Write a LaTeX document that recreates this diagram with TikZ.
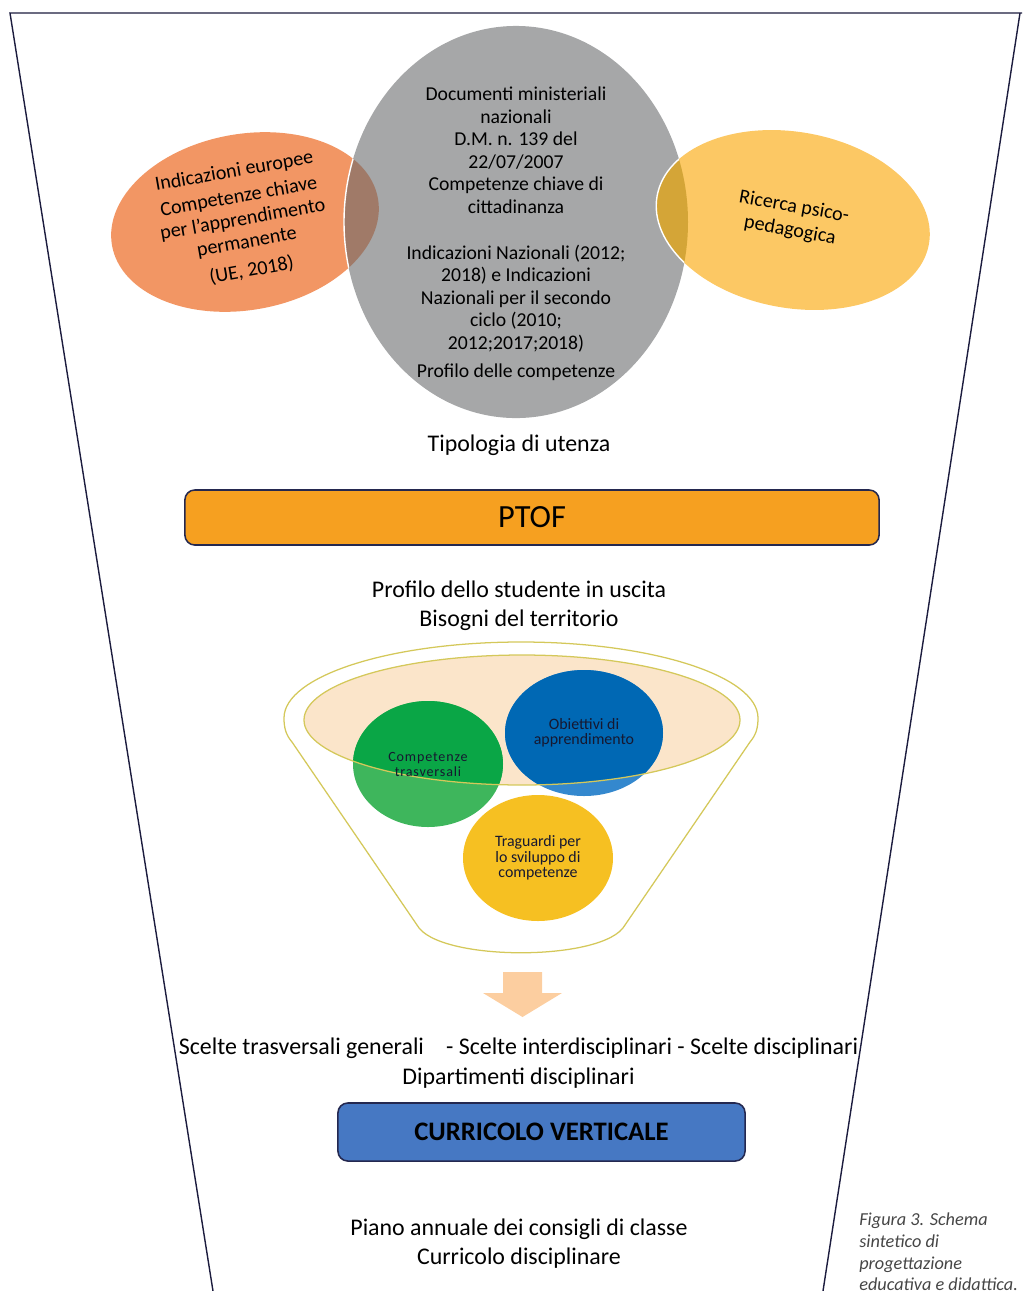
\documentclass[tikz,border=0pt]{standalone}
\usepackage{fontspec}
\setmainfont{Carlito}
\usetikzlibrary{shapes.geometric}

\definecolor{framenavy}{RGB}{28,28,62}
\definecolor{docgray}{RGB}{166,167,168}
\definecolor{euorange}{RGB}{242,150,100}
\definecolor{eubrown}{RGB}{160,122,104}
\definecolor{psyyellow}{RGB}{252,200,100}
\definecolor{psygold}{RGB}{212,165,55}
\definecolor{ptoforange}{RGB}{246,160,32}
\definecolor{barnavy}{RGB}{36,40,80}
\definecolor{curblue}{RGB}{70,120,195}
\definecolor{funnelline}{RGB}{212,200,90}
\definecolor{funneltan}{RGB}{251,229,202}
\definecolor{greenlight}{RGB}{62,182,92}
\definecolor{greendark}{RGB}{10,166,70}
\definecolor{bluelight}{RGB}{52,136,206}
\definecolor{bluedark}{RGB}{0,104,180}
\definecolor{goalyellow}{RGB}{246,192,34}
\definecolor{arrowpeach}{RGB}{252,206,160}
\definecolor{captiongray}{RGB}{70,70,70}
\definecolor{blobtext}{RGB}{22,24,48}

\begin{document}
\begin{tikzpicture}[
    x = 0.025cm,
    y = -0.025cm,
    oval/.style = {ellipse, inner sep=0pt, outer sep=0pt},
    ovaltext/.style = {align=center, inner sep=0pt,
              font=\fontsize{14.3}{16.4}\selectfont},
    heading/.style = {align=center, inner sep=0pt,
              font=\fontsize{17}{20.6}\selectfont},
    bar/.style = {rounded corners=7pt, draw=barnavy, line width=1.1pt,
              inner sep=0pt},
    blob/.style = {ellipse, inner sep=0pt, align=center, text=blobtext,
              minimum width=3.75cm, minimum height=3.15cm,
              font=\fontsize{11.3}{10.9}\selectfont},
    ]

\useasboundingbox (0,0) rectangle (1022,1291);
\clip (0,0) rectangle (1022,1291);

% frame
\coordinate (top_left) at (10,13);
\coordinate (top_right) at (1022,13);
\coordinate (right_top) at (1020,13);
\coordinate (bottom_left) at (213,1291);
\coordinate (bottom_right) at (823,1291);
\draw [framenavy, line width=1pt] (bottom_left) -- (top_left) -- (top_right);
\draw [framenavy, line width=1pt] (right_top) -- (bottom_right);

% sources
\node[oval, fill=euorange, minimum width=6.75cm, minimum height=4.4cm, rotate=10] (eu) at (245,222){};
\node[oval, fill=docgray, minimum width=8.6cm, minimum height=9.8cm] (docs) at (516,222){};
\node[oval, fill=psyyellow, minimum width=6.9cm, minimum height=4.4cm, rotate=-10] (psy) at (793,220){};

\begin{scope}
  \clip (516,222) ellipse [x radius=172, y radius=196];
  \fill [eubrown, rotate around={10:(245,222)}] (245,222) ellipse [x radius=135, y radius=88];
  \fill [psygold, rotate around={-10:(793,220)}] (793,220) ellipse [x radius=138, y radius=88];
  \draw [white, line width=1pt, rotate around={-10:(793,220)}] (793,220) ellipse [x radius=138, y radius=88];
\end{scope}
\begin{scope}
  \clip [rotate around={10:(245,222)}] (245,222) ellipse [x radius=135, y radius=88];
  \draw [white, line width=1pt] (516,222) ellipse [x radius=172, y radius=196];
\end{scope}

\node[ovaltext, rotate=10] (eu_text) at (243,221) {Indicazioni europee\\[2pt] Competenze chiave\\per l’apprendimento\\permanente\\[4pt] (UE, 2018)};
\node[ovaltext, font=\fontsize{14}{16}\selectfont] (docs_text) at (516,234) {Documenti ministeriali\\nazionali\\D.M. n. 139 del\\22/07/2007\\Competenze chiave di\\cittadinanza\\[16.7pt] Indicazioni Nazionali (2012;\\2018) e Indicazioni\\Nazionali per il secondo\\ciclo (2010;\\2012;2017;2018)\\[4.6pt] Profilo delle competenze};
\node[ovaltext, font=\fontsize{14.3}{17}\selectfont, rotate=-10] (psy_text) at (792,219) {Ricerca psico-\\pedagogica};

\node[heading] (users) at (519,445) {Tipologia di utenza};

\node[bar, fill=ptoforange, minimum width=17.35cm, minimum height=1.375cm,
      font=\fontsize{23}{23}\selectfont] (ptof) at (532,517.5) {PTOF};

\node[heading] (profile) at (519,606) {Profilo dello studente in uscita\\Bisogni del territorio};

% funnel
\draw [funnelline, line width=0.9pt] (284,718)
  arc [start angle=180, end angle=360, x radius=237, y radius=76]
  .. controls (758,728) and (756,735) .. (750,742) -- (625,925)
  .. controls (605,962) and (437,962) .. (417,925) -- (292,742)
  .. controls (286,735) and (284,728) .. (284,718) -- cycle;
\fill [funneltan] (522,720) ellipse [x radius=218, y radius=65];
\fill [greenlight] (428,764) ellipse [x radius=75, y radius=63];
\fill [bluelight] (584,733) ellipse [x radius=79, y radius=63];
\fill [goalyellow] (538,858) ellipse [x radius=75, y radius=63];
\begin{scope}
  \clip (522,720) ellipse [x radius=218, y radius=65];
  \fill [greendark] (428,764) ellipse [x radius=75, y radius=63];
  \fill [bluedark] (584,733) ellipse [x radius=79, y radius=63];
\end{scope}
\draw [funnelline, line width=0.9pt] (522,720) ellipse [x radius=218, y radius=65];

\node[blob, font=\fontsize{10}{10.7}\selectfont\addfontfeature{LetterSpace=6}] (skills) at (428,764) {Competenze\\trasversali};
\node[blob, minimum width=3.95cm] (goals) at (584,733) {Obiettivi di\\apprendimento};
\node[blob] (targets) at (538,858) {Traguardi per\\lo sviluppo di\\competenze};

\fill [arrowpeach] (503,972) -- (542,972) -- (542,993) -- (562,993)
  -- (522.5,1017) -- (483,993) -- (503,993) -- cycle;

\node[heading, font=\fontsize{17}{21.3}\selectfont] (choices) at (518.5,1063) {Scelte trasversali generali\hspace{0.7em} - Scelte interdisciplinari - Scelte disciplinari\\Dipartimenti disciplinari};

\node[bar, fill=curblue, minimum width=10.175cm, minimum height=1.45cm,
      font=\bfseries\fontsize{19}{19}\selectfont] (vertical) at (541.5,1132) {CURRICOLO VERTICALE};

\node[heading] (plan) at (519,1243.5) {Piano annuale dei consigli di classe\\Curricolo disciplinare};

\node[anchor=north west, align=left, inner sep=0pt, text=captiongray,
      font=\itshape\fontsize{13}{15.3}\selectfont] (caption) at (859,1213) {Figura 3. Schema\\sintetico di\\progettazione\\educativa e didattica.};

\end{tikzpicture}
\end{document}
